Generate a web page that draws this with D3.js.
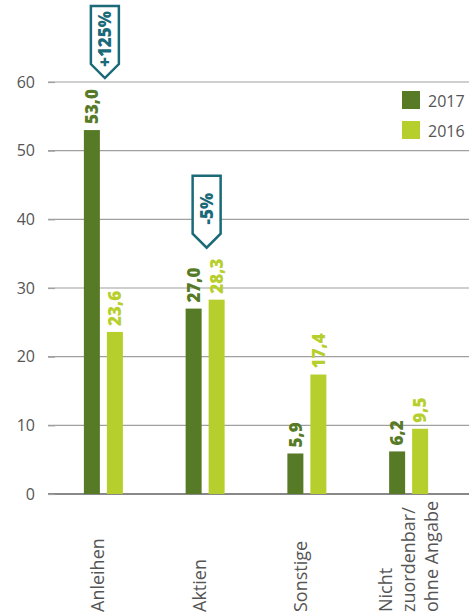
<!DOCTYPE html>
<html>
<head>
<meta charset="utf-8">
<script src="https://cdn.jsdelivr.net/npm/d3@7"></script>
<style>
  body { margin: 0; background: #fff; }
  svg { display: block; font-family: "Open Sans", sans-serif; }
</style>
</head>
<body>
<svg id="chart" width="469" height="616"></svg>
<script>
// data
var categories = [["Anleihen"], ["Aktien"], ["Sonstige"], ["Nicht", "zuordenbar/", "ohne Angabe"]];
var years = ["2017", "2016"];
var values2017 = [53.0, 27.0, 5.9, 6.2];
var values2016 = [23.6, 28.3, 17.4, 9.5];
var badges = ["+125%", "-5%", null, null];
var yTicks = [0, 10, 20, 30, 40, 50, 60];

var colors = { "2017": "#567a25", "2016": "#b7cf2c" };
var teal = "#1b6a78";
var gray = "#555";

const svg = d3.select("#chart"),
    width = +svg.attr("width"),
    height = +svg.attr("height");

var y = d3.scaleLinear().domain([0, 60]).range([494, 82]);

var x0 = d3.scaleBand()
    .domain(d3.range(categories.length))
    .range([53, 460]);

var x1 = d3.scaleBand()
    .domain(years)
    .range([-20, 19])
    .paddingInner(7 / 23);

// gridlines
svg.append("g")
    .selectAll("line")
    .data(yTicks)
    .enter().append("line")
    .attr("x1", 48).attr("x2", width)
    .attr("y1", d => y(d)).attr("y2", d => y(d))
    .attr("stroke", d => d === 0 ? "#888" : "#a0a0a0")
    .attr("stroke-width", d => d === 0 ? 2 : 1.2);

// y axis labels + small ticks
var yAxis = d3.axisLeft(y).tickValues(yTicks).tickSize(7).tickPadding(13);
var ya = svg.append("g").attr("transform", "translate(55,0)").call(yAxis);
ya.select(".domain").remove();
ya.selectAll(".tick line").attr("stroke", "#a0a0a0").attr("stroke-width", 1.2);
ya.selectAll("text")
    .attr("fill", gray)
    .style("font-size", "16px")
    .style("font-family", "'Open Sans', sans-serif");

// bars
var rows = categories.map((c, i) => ({ i: i, vals: [
    { year: "2017", v: values2017[i] },
    { year: "2016", v: values2016[i] }
]}));

var grp = svg.selectAll(".grp")
    .data(rows)
    .enter().append("g")
    .attr("class", "grp")
    .attr("transform", d => "translate(" + (x0(d.i) + x0.bandwidth() / 2) + ",0)");

grp.selectAll("rect")
    .data(d => d.vals)
    .enter().append("rect")
    .attr("x", d => x1(d.year))
    .attr("width", x1.bandwidth())
    .attr("y", d => y(d.v))
    .attr("height", d => y(0) - y(d.v))
    .attr("fill", d => colors[d.year]);

grp.selectAll(".val")
    .data(d => d.vals)
    .enter().append("text")
    .attr("class", "val")
    .attr("transform", d => "translate(" + (x1(d.year) + x1.bandwidth() / 2) + "," + (y(d.v) - 6) + ") rotate(-90)")
    .attr("dy", "0.36em")
    .attr("fill", d => colors[d.year])
    .style("font-size", "17px")
    .style("font-weight", "800")
    .text(d => d3.format(".1f")(d.v).replace(".", ","));

// badges
grp.filter(d => badges[d.i]).each(function(d) {
    var g = d3.select(this);
    var top = y(d3.max(d.vals, v => v.v));
    var bottom = top - 52, h = 72, w = 28, p = 14, cx = 1;
    var pts = [[cx - w / 2, bottom - h], [cx + w / 2, bottom - h], [cx + w / 2, bottom - p],
               [cx, bottom], [cx - w / 2, bottom - p]];
    g.append("path")
        .attr("d", d3.line()(pts) + "Z")
        .attr("fill", "#fff")
        .attr("stroke", teal)
        .attr("stroke-width", 2.5)
        .attr("stroke-linejoin", "miter");
    g.append("text")
        .attr("transform", "translate(" + cx + "," + (bottom - h / 2 - 3) + ") rotate(-90)")
        .attr("text-anchor", "middle")
        .attr("dy", "0.36em")
        .attr("fill", teal)
        .style("font-size", "17px")
        .style("font-weight", "800")
        .text(badges[d.i]);
});

// category labels
grp.each(function(d) {
    var lines = categories[d.i];
    var g = d3.select(this);
    lines.forEach(function(t, k) {
        var off = lines.length > 1 ? (k - 1) * 23 + 6 : 0;
        g.append("text")
            .attr("transform", "translate(" + off + ",612) rotate(-90)")
            .attr("fill", gray)
            .style("font-size", "18px")
            .text(t);
    });
});

// legend
var legend = svg.append("g").attr("transform", "translate(402,91)");
var li = legend.selectAll("g")
    .data(years)
    .enter().append("g")
    .attr("transform", (d, i) => "translate(0," + i * 30 + ")");
li.append("rect").attr("width", 18).attr("height", 18).attr("fill", d => colors[d]);
li.append("text")
    .attr("x", 26).attr("y", 16)
    .attr("fill", gray)
    .style("font-size", "16px")
    .text(d => d);
</script>
</body>
</html>
